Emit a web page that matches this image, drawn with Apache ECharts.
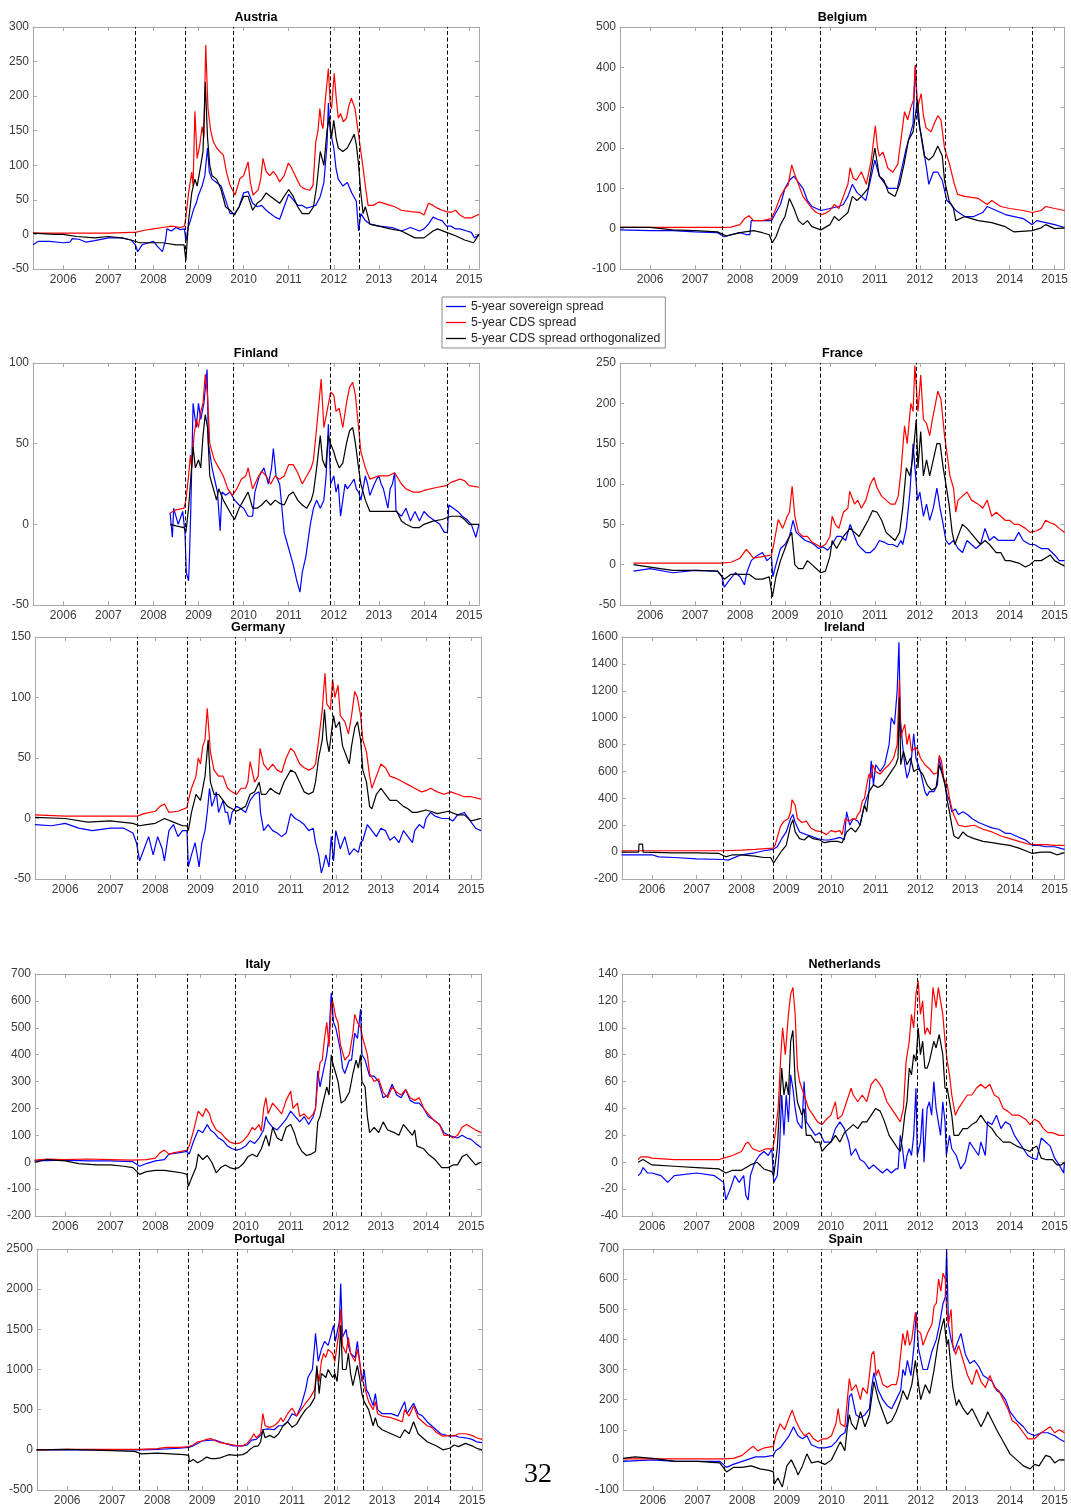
<!DOCTYPE html>
<html>
<head>
<meta charset="utf-8">
<script src="https://cdn.jsdelivr.net/npm/echarts@6/dist/echarts.min.js"></script>
<style>
  html, body { margin: 0; padding: 0; background: #fff; }
  #chart { width: 1071px; height: 1507px; }
</style>
</head>
<body>
<div id="chart"></div>
<script>
// ---------------- DATA ----------------
const countries = ['Austria','Belgium','Finland','France','Germany','Ireland','Italy','Netherlands','Portugal','Spain'];
const seriesNames = ['5-year sovereign spread','5-year CDS spread','5-year CDS spread orthogonalized'];
const yearTicks = [2006,2007,2008,2009,2010,2011,2012,2013,2014,2015];
const eventDates = [2007.60, 2008.70, 2009.78, 2011.93, 2012.57, 2014.51];
const timeRange = [2005.33, 2015.22];
const yRanges = { Austria:[-50,300,50], Belgium:[-100,500,100], Finland:[-50,100,50], France:[-50,250,50],
  Germany:[-50,150,50], Ireland:[-200,1600,200], Italy:[-200,700,100], Netherlands:[-40,140,20],
  Portugal:[-500,2500,500], Spain:[-100,700,100] };

const austriaSov = [[2005.33,-15],[2005.45,-10],[2005.7,-10],[2006.0,-12],[2006.15,-11],[2006.2,-6],[2006.35,-7],[2006.5,-11],[2006.7,-9],[2007.0,-5],[2007.3,-5],[2007.5,-8],[2007.6,-15],[2007.65,-25],[2007.75,-15],[2007.9,-12],[2008.0,-10],[2008.1,-18],[2008.2,-25],[2008.27,-8],[2008.3,8],[2008.4,5],[2008.5,10],[2008.6,7],[2008.69,8],[2008.72,-10],[2008.77,10],[2008.82,20],[2008.9,38],[2008.95,45],[2009.0,57],[2009.08,70],[2009.14,85],[2009.2,125],[2009.24,90],[2009.3,80],[2009.4,75],[2009.5,70],[2009.6,50],[2009.7,30],[2009.8,30],[2009.9,40],[2010.0,60],[2010.1,62],[2010.2,45],[2010.3,40],[2010.4,42],[2010.5,35],[2010.6,30],[2010.7,25],[2010.8,22],[2010.9,40],[2011.0,58],[2011.1,50],[2011.2,42],[2011.3,42],[2011.4,38],[2011.5,40],[2011.6,42],[2011.7,55],[2011.78,75],[2011.85,130],[2011.88,190],[2011.92,150],[2012.0,125],[2012.05,95],[2012.1,80],[2012.2,70],[2012.3,75],[2012.4,60],[2012.5,48],[2012.55,5],[2012.6,30],[2012.7,20],[2012.8,15],[2013.0,12],[2013.3,10],[2013.5,5],[2013.7,10],[2013.9,5],[2014.0,8],[2014.1,15],[2014.2,25],[2014.3,22],[2014.4,20],[2014.5,12],[2014.6,12],[2014.7,8],[2014.8,8],[2014.95,5],[2015.05,3],[2015.12,-5],[2015.22,0]];
const austriaCds = [[2005.33,2],[2006.0,2],[2007.0,2],[2007.5,3],[2007.6,3],[2007.8,6],[2008.0,8],[2008.2,10],[2008.4,12],[2008.6,10],[2008.69,12],[2008.72,25],[2008.78,60],[2008.85,90],[2008.88,70],[2008.92,178],[2008.97,110],[2009.03,130],[2009.08,156],[2009.12,140],[2009.16,274],[2009.21,182],[2009.27,150],[2009.33,134],[2009.4,125],[2009.47,120],[2009.55,115],[2009.62,90],[2009.7,71],[2009.81,57],[2009.87,70],[2009.92,81],[2010.0,85],[2010.05,95],[2010.1,105],[2010.15,75],[2010.21,57],[2010.32,64],[2010.38,80],[2010.43,110],[2010.5,91],[2010.58,85],[2010.66,91],[2010.73,85],[2010.8,76],[2010.9,85],[2010.99,103],[2011.05,98],[2011.1,91],[2011.18,80],[2011.25,71],[2011.32,67],[2011.4,65],[2011.47,64],[2011.54,71],[2011.6,134],[2011.65,150],[2011.69,182],[2011.73,160],[2011.76,153],[2011.82,200],[2011.88,240],[2011.92,190],[2011.95,182],[2012.01,233],[2012.05,200],[2012.1,168],[2012.15,175],[2012.21,163],[2012.28,168],[2012.33,185],[2012.39,197],[2012.43,195],[2012.47,182],[2012.54,149],[2012.6,120],[2012.65,96],[2012.7,70],[2012.76,42],[2012.87,42],[2013.0,47],[2013.2,43],[2013.35,40],[2013.5,35],[2013.7,33],[2013.9,32],[2014.0,28],[2014.1,45],[2014.2,42],[2014.3,38],[2014.4,35],[2014.5,33],[2014.6,32],[2014.7,35],[2014.8,28],[2014.9,24],[2015.05,24],[2015.15,27],[2015.22,29]];
const austriaOrth = [[2005.33,2],[2005.8,0],[2006.0,0],[2006.3,-3],[2006.7,-5],[2007.0,-3],[2007.3,-5],[2007.5,-8],[2007.7,-12],[2008.0,-12],[2008.2,-12],[2008.5,-15],[2008.68,-15],[2008.72,-38],[2008.78,20],[2008.85,60],[2008.92,80],[2008.97,70],[2009.05,100],[2009.1,120],[2009.15,220],[2009.2,140],[2009.25,100],[2009.3,85],[2009.4,80],[2009.5,65],[2009.6,40],[2009.7,35],[2009.8,28],[2009.9,40],[2010.0,55],[2010.1,55],[2010.2,35],[2010.3,45],[2010.4,50],[2010.5,60],[2010.6,55],[2010.8,45],[2010.9,55],[2011.0,65],[2011.1,55],[2011.2,40],[2011.3,30],[2011.45,30],[2011.55,40],[2011.62,70],[2011.7,120],[2011.78,100],[2011.85,150],[2011.9,170],[2011.95,140],[2012.0,165],[2012.05,140],[2012.1,125],[2012.2,120],[2012.3,125],[2012.38,135],[2012.45,145],[2012.5,130],[2012.55,100],[2012.6,60],[2012.65,30],[2012.7,40],[2012.8,15],[2013.0,12],[2013.25,8],[2013.5,5],[2013.8,-5],[2014.0,-5],[2014.2,5],[2014.3,8],[2014.5,3],[2014.7,-2],[2014.9,-8],[2015.1,-12],[2015.22,0]];

const belgiumSov = [[2005.33,-3],[2006.0,-5],[2006.5,-5],[2007.0,-8],[2007.5,-10],[2007.65,-20],[2007.8,-15],[2008.0,-10],[2008.15,-15],[2008.22,-15],[2008.25,20],[2008.5,20],[2008.7,20],[2008.8,40],[2008.9,60],[2009.0,100],[2009.1,120],[2009.2,130],[2009.3,115],[2009.4,100],[2009.5,70],[2009.6,55],[2009.7,50],[2009.8,45],[2010.0,50],[2010.2,55],[2010.3,60],[2010.4,80],[2010.5,110],[2010.6,90],[2010.7,80],[2010.8,70],[2010.9,120],[2011.0,170],[2011.1,130],[2011.2,115],[2011.3,100],[2011.5,100],[2011.6,150],[2011.7,200],[2011.8,240],[2011.85,260],[2011.9,405],[2011.95,280],[2012.05,220],[2012.15,150],[2012.2,110],[2012.3,140],[2012.4,140],[2012.5,120],[2012.6,70],[2012.7,60],[2012.8,45],[2013.0,30],[2013.2,30],[2013.4,40],[2013.5,55],[2013.7,45],[2013.9,35],[2014.1,30],[2014.3,25],[2014.5,10],[2014.6,20],[2014.8,15],[2015.0,10],[2015.22,3]];
const belgiumCds = [[2005.33,3],[2006.0,3],[2007.0,3],[2007.6,3],[2007.8,4],[2008.0,10],[2008.1,25],[2008.2,32],[2008.3,20],[2008.5,20],[2008.7,25],[2008.8,50],[2008.9,80],[2009.0,100],[2009.07,108],[2009.15,158],[2009.2,140],[2009.3,110],[2009.4,80],[2009.5,65],[2009.6,50],[2009.7,40],[2009.8,35],[2009.9,38],[2010.0,45],[2010.1,60],[2010.2,50],[2010.3,80],[2010.4,110],[2010.45,151],[2010.52,125],[2010.59,120],[2010.7,141],[2010.81,110],[2010.92,170],[2011.01,255],[2011.06,200],[2011.1,180],[2011.18,190],[2011.29,150],[2011.4,140],[2011.51,160],[2011.58,220],[2011.66,290],[2011.73,270],[2011.8,300],[2011.86,320],[2011.9,405],[2011.95,300],[2012.03,335],[2012.08,280],[2012.14,250],[2012.25,240],[2012.32,260],[2012.4,280],[2012.47,270],[2012.55,200],[2012.66,160],[2012.77,110],[2012.84,85],[2013.0,80],[2013.3,75],[2013.5,60],[2013.6,70],[2013.8,55],[2014.0,50],[2014.3,45],[2014.5,40],[2014.7,45],[2014.8,55],[2015.0,50],[2015.22,45]];
const belgiumOrth = [[2005.33,3],[2006.0,3],[2006.5,-3],[2007.0,-5],[2007.5,-8],[2007.7,-18],[2008.0,-10],[2008.3,-5],[2008.5,-10],[2008.65,-15],[2008.72,-35],[2008.8,-20],[2008.9,10],[2009.0,30],[2009.1,75],[2009.2,50],[2009.3,20],[2009.4,10],[2009.5,20],[2009.6,5],[2009.8,-3],[2010.0,10],[2010.1,30],[2010.2,20],[2010.4,40],[2010.5,80],[2010.6,70],[2010.7,80],[2010.85,100],[2011.0,200],[2011.1,130],[2011.2,120],[2011.3,90],[2011.45,80],[2011.55,110],[2011.65,160],[2011.75,220],[2011.85,240],[2011.95,320],[2012.0,250],[2012.1,180],[2012.2,170],[2012.3,180],[2012.4,205],[2012.5,180],[2012.55,120],[2012.65,70],[2012.75,50],[2012.8,20],[2013.0,30],[2013.3,20],[2013.6,15],[2013.9,5],[2014.1,-8],[2014.5,-5],[2014.7,2],[2014.8,10],[2015.0,0],[2015.22,2]];

const finlandSov = [[2008.37,7],[2008.42,-8],[2008.45,10],[2008.55,0],[2008.65,8],[2008.7,-5],[2008.73,-30],[2008.78,-35],[2008.8,-20],[2008.83,10],[2008.88,75],[2008.95,60],[2009.0,75],[2009.05,65],[2009.12,75],[2009.19,96],[2009.22,50],[2009.3,35],[2009.38,25],[2009.42,20],[2009.48,-4],[2009.52,20],[2009.6,18],[2009.7,20],[2009.8,15],[2009.9,12],[2010.0,10],[2010.1,5],[2010.2,5],[2010.25,20],[2010.35,30],[2010.45,35],[2010.5,30],[2010.55,25],[2010.62,35],[2010.66,47],[2010.72,30],[2010.8,25],[2010.85,10],[2010.9,-5],[2010.95,-10],[2011.0,-15],[2011.05,-20],[2011.1,-25],[2011.18,-35],[2011.25,-42],[2011.3,-30],[2011.38,-20],[2011.42,-20],[2011.48,0],[2011.55,10],[2011.62,15],[2011.7,10],[2011.78,15],[2011.83,30],[2011.88,62],[2011.93,25],[2012.0,30],[2012.05,20],[2012.1,25],[2012.15,5],[2012.2,15],[2012.25,25],[2012.3,22],[2012.38,25],[2012.45,28],[2012.5,22],[2012.55,20],[2012.6,15],[2012.7,30],[2012.75,25],[2012.8,18],[2012.9,25],[2012.95,28],[2013.0,30],[2013.05,25],[2013.1,22],[2013.2,10],[2013.25,22],[2013.3,25],[2013.35,32],[2013.38,8],[2013.5,5],[2013.6,10],[2013.7,2],[2013.8,8],[2013.9,2],[2014.0,8],[2014.1,5],[2014.2,3],[2014.35,0],[2014.45,-5],[2014.52,-5],[2014.55,12],[2014.65,10],[2014.75,8],[2014.85,5],[2014.95,3],[2015.05,0],[2015.15,-8],[2015.22,0]];
const finlandCds = [[2008.37,7],[2008.5,9],[2008.68,10],[2008.72,15],[2008.78,30],[2008.82,43],[2008.85,35],[2008.9,55],[2008.95,65],[2009.0,60],[2009.05,70],[2009.1,75],[2009.15,93],[2009.2,80],[2009.25,50],[2009.35,40],[2009.45,35],[2009.55,30],[2009.65,22],[2009.75,18],[2009.85,22],[2009.95,28],[2010.05,30],[2010.1,35],[2010.2,22],[2010.3,28],[2010.4,33],[2010.5,30],[2010.6,25],[2010.7,30],[2010.8,28],[2010.9,30],[2011.0,37],[2011.1,37],[2011.2,32],[2011.3,25],[2011.4,30],[2011.5,35],[2011.55,40],[2011.62,60],[2011.72,90],[2011.78,60],[2011.85,70],[2011.93,82],[2012.0,80],[2012.05,70],[2012.12,72],[2012.2,60],[2012.28,75],[2012.35,85],[2012.42,88],[2012.48,80],[2012.55,60],[2012.6,45],[2012.7,35],[2012.8,28],[2013.0,30],[2013.2,30],[2013.35,32],[2013.5,25],[2013.6,22],[2013.75,20],[2013.9,20],[2014.0,21],[2014.3,23],[2014.5,24],[2014.6,26],[2014.8,28],[2014.9,27],[2015.0,24],[2015.22,23]];
const finlandOrth = [[2008.37,0],[2008.5,-1],[2008.68,-2],[2008.72,-5],[2008.78,10],[2008.82,25],[2008.88,48],[2008.93,35],[2009.0,40],[2009.05,35],[2009.1,55],[2009.15,68],[2009.2,60],[2009.25,30],[2009.3,25],[2009.35,20],[2009.4,15],[2009.45,22],[2009.55,15],[2009.65,10],[2009.75,5],[2009.8,3],[2009.9,10],[2010.0,15],[2010.1,20],[2010.2,10],[2010.3,10],[2010.4,12],[2010.5,15],[2010.6,12],[2010.7,15],[2010.8,13],[2010.9,12],[2011.0,18],[2011.1,20],[2011.2,15],[2011.3,12],[2011.4,10],[2011.5,15],[2011.55,20],[2011.62,35],[2011.7,55],[2011.75,40],[2011.82,35],[2011.88,55],[2011.93,50],[2012.0,45],[2012.05,40],[2012.12,35],[2012.2,38],[2012.28,50],[2012.35,58],[2012.42,60],[2012.48,50],[2012.55,35],[2012.6,25],[2012.7,15],[2012.8,8],[2013.0,8],[2013.2,8],[2013.4,8],[2013.5,2],[2013.6,0],[2013.75,-2],[2013.9,-2],[2014.0,0],[2014.2,2],[2014.4,3],[2014.6,5],[2014.8,5],[2014.9,3],[2015.0,0],[2015.22,0]];

const franceSov = [[2005.63,-8],[2006.0,-5],[2006.5,-10],[2007.0,-7],[2007.5,-8],[2007.6,-15],[2007.65,-28],[2007.75,-20],[2007.9,-10],[2008.0,-15],[2008.1,-25],[2008.15,-10],[2008.25,5],[2008.35,10],[2008.5,15],[2008.6,5],[2008.7,10],[2008.73,-15],[2008.8,0],[2008.9,20],[2009.0,25],[2009.1,35],[2009.18,55],[2009.25,40],[2009.35,35],[2009.45,30],[2009.55,28],[2009.65,25],[2009.75,20],[2009.85,22],[2009.95,18],[2010.05,25],[2010.15,35],[2010.25,35],[2010.35,30],[2010.45,50],[2010.55,35],[2010.62,25],[2010.7,20],[2010.8,15],[2010.9,15],[2011.0,20],[2011.1,30],[2011.2,28],[2011.3,25],[2011.4,25],[2011.5,22],[2011.58,30],[2011.62,25],[2011.7,45],[2011.78,90],[2011.85,150],[2011.95,80],[2012.0,90],[2012.08,60],[2012.15,75],[2012.22,55],[2012.3,70],[2012.38,95],[2012.45,70],[2012.52,50],[2012.58,30],[2012.65,25],[2012.75,30],[2012.85,20],[2012.95,15],[2013.05,30],[2013.15,25],[2013.25,20],[2013.35,25],[2013.45,45],[2013.55,30],[2013.65,35],[2013.75,30],[2013.9,30],[2014.0,30],[2014.1,30],[2014.2,40],[2014.3,30],[2014.45,25],[2014.55,25],[2014.7,20],[2014.85,20],[2015.0,12],[2015.1,5],[2015.22,5]];
const franceCds = [[2005.63,2],[2007.6,2],[2007.8,3],[2008.0,8],[2008.14,19],[2008.3,8],[2008.5,10],[2008.7,12],[2008.75,25],[2008.85,56],[2008.95,45],[2009.05,60],[2009.1,65],[2009.16,97],[2009.22,60],[2009.3,40],[2009.4,35],[2009.5,35],[2009.6,28],[2009.7,25],[2009.8,22],[2009.9,25],[2010.0,35],[2010.05,60],[2010.12,50],[2010.2,45],[2010.3,65],[2010.4,70],[2010.44,91],[2010.55,75],[2010.62,80],[2010.7,70],[2010.8,80],[2010.9,100],[2010.98,108],[2011.05,95],[2011.15,85],[2011.25,80],[2011.35,75],[2011.45,75],[2011.52,85],[2011.58,115],[2011.66,172],[2011.72,150],[2011.8,200],[2011.85,190],[2011.89,247],[2011.96,190],[2012.02,235],[2012.08,180],[2012.15,175],[2012.22,160],[2012.28,180],[2012.35,200],[2012.4,215],[2012.47,205],[2012.55,160],[2012.6,140],[2012.67,110],[2012.75,95],[2012.8,65],[2012.85,80],[2012.95,85],[2013.05,90],[2013.15,80],[2013.3,75],[2013.4,70],[2013.5,80],[2013.6,60],[2013.7,65],[2013.8,60],[2013.9,55],[2014.0,55],[2014.1,50],[2014.2,50],[2014.35,45],[2014.45,40],[2014.6,42],[2014.7,45],[2014.8,55],[2014.9,52],[2015.0,50],[2015.1,45],[2015.22,40]];
const franceOrth = [[2005.63,0],[2006.0,-3],[2006.5,-7],[2007.0,-7],[2007.5,-8],[2007.65,-18],[2007.8,-12],[2008.0,-12],[2008.2,-12],[2008.35,-18],[2008.5,-18],[2008.65,-15],[2008.72,-40],[2008.8,-15],[2008.9,5],[2009.0,20],[2009.1,35],[2009.15,40],[2009.22,0],[2009.3,-5],[2009.4,-5],[2009.5,5],[2009.6,0],[2009.7,-5],[2009.8,-10],[2009.9,-8],[2010.0,10],[2010.05,30],[2010.15,20],[2010.3,35],[2010.45,45],[2010.55,40],[2010.65,35],[2010.75,45],[2010.85,55],[2010.95,67],[2011.05,65],[2011.15,55],[2011.25,40],[2011.35,35],[2011.45,30],[2011.55,40],[2011.62,70],[2011.7,120],[2011.78,110],[2011.85,135],[2011.92,180],[2011.96,120],[2012.02,165],[2012.08,110],[2012.15,130],[2012.22,110],[2012.3,130],[2012.38,150],[2012.45,150],[2012.52,120],[2012.58,100],[2012.65,75],[2012.72,40],[2012.78,25],[2012.88,40],[2012.95,50],[2013.05,45],[2013.2,35],[2013.35,25],[2013.45,30],[2013.55,25],[2013.7,15],[2013.8,15],[2013.9,5],[2014.0,5],[2014.2,2],[2014.35,-3],[2014.45,0],[2014.55,5],[2014.7,5],[2014.85,10],[2014.9,12],[2015.0,5],[2015.22,-2]];

const germanySov = [[2005.33,-5],[2005.7,-6],[2006.0,-4],[2006.3,-8],[2006.6,-10],[2007.0,-8],[2007.3,-8],[2007.5,-12],[2007.58,-20],[2007.65,-35],[2007.75,-25],[2007.85,-15],[2007.95,-30],[2008.05,-15],[2008.15,-25],[2008.2,-35],[2008.3,-10],[2008.4,-5],[2008.5,-15],[2008.6,-10],[2008.7,-10],[2008.73,-40],[2008.8,-30],[2008.88,-20],[2008.97,-40],[2009.03,-20],[2009.1,-10],[2009.15,5],[2009.2,25],[2009.25,10],[2009.3,15],[2009.35,22],[2009.4,5],[2009.5,15],[2009.55,5],[2009.6,5],[2009.65,-5],[2009.7,5],[2009.8,10],[2009.9,8],[2010.0,5],[2010.1,15],[2010.2,20],[2010.3,22],[2010.33,5],[2010.4,-10],[2010.5,-5],[2010.6,-10],[2010.7,-12],[2010.8,-15],[2010.9,-12],[2011.0,4],[2011.1,0],[2011.2,-2],[2011.3,-5],[2011.4,-10],[2011.5,-8],[2011.55,-20],[2011.62,-30],[2011.68,-45],[2011.72,-40],[2011.78,-30],[2011.85,-40],[2011.9,-15],[2011.95,-35],[2012.0,-10],[2012.1,-25],[2012.2,-15],[2012.3,-30],[2012.4,-25],[2012.5,-28],[2012.55,-20],[2012.6,-18],[2012.7,-5],[2012.8,-10],[2012.9,-15],[2013.0,-8],[2013.1,-10],[2013.2,-18],[2013.3,-15],[2013.4,-20],[2013.5,-10],[2013.6,-15],[2013.7,-20],[2013.75,-10],[2013.85,-5],[2013.95,-8],[2014.0,0],[2014.1,5],[2014.2,2],[2014.35,0],[2014.5,0],[2014.6,-2],[2014.7,3],[2014.85,5],[2015.0,-3],[2015.1,-8],[2015.22,-10]];
const germanyCds = [[2005.33,3],[2006.0,2],[2007.0,2],[2007.6,2],[2007.75,4],[2008.0,6],[2008.1,10],[2008.2,12],[2008.3,5],[2008.5,6],[2008.7,9],[2008.73,15],[2008.8,25],[2008.9,35],[2008.95,50],[2009.0,45],[2009.05,60],[2009.1,65],[2009.15,91],[2009.22,55],[2009.3,40],[2009.4,35],[2009.5,35],[2009.6,25],[2009.7,22],[2009.8,20],[2009.9,25],[2010.0,25],[2010.05,30],[2010.1,47],[2010.2,30],[2010.28,35],[2010.32,58],[2010.4,45],[2010.5,40],[2010.6,45],[2010.7,40],[2010.8,38],[2010.9,50],[2011.0,58],[2011.08,55],[2011.2,45],[2011.3,42],[2011.4,40],[2011.5,42],[2011.55,45],[2011.62,65],[2011.7,90],[2011.76,120],[2011.8,95],[2011.88,90],[2011.93,115],[2011.98,100],[2012.05,110],[2012.1,85],[2012.2,80],[2012.28,70],[2012.35,85],[2012.42,105],[2012.48,100],[2012.55,85],[2012.6,65],[2012.68,55],[2012.75,35],[2012.8,25],[2012.9,35],[2013.0,45],[2013.1,42],[2013.2,35],[2013.35,33],[2013.5,30],[2013.6,28],[2013.75,25],[2013.9,22],[2014.0,23],[2014.1,25],[2014.25,22],[2014.4,20],[2014.55,22],[2014.7,20],[2014.85,18],[2015.0,18],[2015.22,16]];
const germanyOrth = [[2005.33,1],[2006.0,0],[2006.5,-3],[2007.0,-2],[2007.5,-4],[2007.65,-6],[2007.8,-5],[2008.0,-4],[2008.2,0],[2008.4,-3],[2008.6,-6],[2008.7,-6],[2008.73,-10],[2008.8,5],[2008.9,20],[2009.0,15],[2009.1,35],[2009.17,65],[2009.22,30],[2009.3,20],[2009.4,20],[2009.5,15],[2009.6,10],[2009.7,8],[2009.8,6],[2009.9,8],[2010.0,10],[2010.1,20],[2010.2,22],[2010.3,30],[2010.35,20],[2010.45,20],[2010.55,25],[2010.65,22],[2010.75,20],[2010.85,30],[2011.0,40],[2011.1,38],[2011.2,30],[2011.3,22],[2011.4,20],[2011.5,22],[2011.55,30],[2011.62,50],[2011.7,65],[2011.75,90],[2011.8,65],[2011.85,55],[2011.9,70],[2011.95,85],[2012.0,75],[2012.08,80],[2012.15,60],[2012.25,50],[2012.3,45],[2012.35,60],[2012.42,75],[2012.48,80],[2012.55,65],[2012.6,40],[2012.68,30],[2012.75,10],[2012.8,8],[2012.9,20],[2013.0,25],[2013.1,20],[2013.2,15],[2013.35,15],[2013.5,10],[2013.6,8],[2013.7,5],[2013.8,5],[2014.0,7],[2014.1,6],[2014.25,4],[2014.5,6],[2014.7,3],[2014.85,3],[2015.0,-2],[2015.22,0]];

const irelandSov = [[2005.32,-20],[2006.0,-20],[2006.15,-35],[2006.5,-40],[2007.0,-50],[2007.6,-55],[2007.7,-60],[2008.0,-20],[2008.3,-5],[2008.5,10],[2008.7,20],[2008.8,40],[2008.9,100],[2009.0,150],[2009.1,250],[2009.15,280],[2009.2,220],[2009.3,150],[2009.45,130],[2009.55,120],[2009.7,100],[2009.85,90],[2009.95,90],[2010.1,100],[2010.2,110],[2010.3,90],[2010.35,300],[2010.42,200],[2010.5,250],[2010.6,230],[2010.65,200],[2010.75,350],[2010.85,450],[2010.9,680],[2010.95,500],[2011.0,650],[2011.1,600],[2011.2,650],[2011.3,800],[2011.35,1000],[2011.42,950],[2011.48,1200],[2011.52,1560],[2011.55,1000],[2011.6,800],[2011.65,650],[2011.7,550],[2011.75,600],[2011.8,700],[2011.85,880],[2011.9,700],[2011.95,650],[2012.0,600],[2012.1,450],[2012.15,420],[2012.2,450],[2012.3,450],[2012.38,500],[2012.42,700],[2012.47,620],[2012.55,500],[2012.6,420],[2012.65,380],[2012.7,300],[2012.78,320],[2012.85,280],[2012.95,300],[2013.05,280],[2013.15,250],[2013.3,220],[2013.45,200],[2013.6,180],[2013.75,170],[2013.9,140],[2014.0,140],[2014.2,110],[2014.35,90],[2014.5,50],[2014.65,50],[2014.8,40],[2015.0,40],[2015.22,20]];
const irelandCds = [[2005.32,10],[2007.6,10],[2008.0,15],[2008.3,20],[2008.7,30],[2008.75,50],[2008.87,190],[2008.95,230],[2009.05,250],[2009.1,300],[2009.13,390],[2009.2,350],[2009.25,250],[2009.35,220],[2009.45,230],[2009.55,180],[2009.65,160],[2009.8,150],[2009.9,130],[2010.0,160],[2010.1,150],[2010.2,160],[2010.25,130],[2010.32,250],[2010.4,230],[2010.5,250],[2010.55,240],[2010.6,280],[2010.65,300],[2010.7,380],[2010.75,400],[2010.8,500],[2010.85,580],[2010.9,550],[2010.93,650],[2011.0,600],[2011.1,580],[2011.2,620],[2011.3,650],[2011.4,700],[2011.48,800],[2011.53,1280],[2011.56,850],[2011.6,900],[2011.65,950],[2011.7,800],[2011.75,880],[2011.8,750],[2011.9,780],[2011.95,750],[2012.0,700],[2012.1,650],[2012.2,620],[2012.3,580],[2012.38,590],[2012.42,720],[2012.47,680],[2012.52,550],[2012.6,500],[2012.65,400],[2012.72,300],[2012.78,250],[2012.85,200],[2013.0,190],[2013.2,200],[2013.4,170],[2013.6,150],[2013.8,120],[2014.0,100],[2014.2,80],[2014.4,60],[2014.6,55],[2014.8,55],[2015.0,50],[2015.22,50]];
const irelandOrth = [[2005.32,0],[2005.7,0],[2005.71,60],[2005.79,60],[2005.8,0],[2006.5,-5],[2007.0,-5],[2007.5,-10],[2007.65,-35],[2007.8,-20],[2008.0,-20],[2008.3,-30],[2008.5,-40],[2008.65,-40],[2008.72,-80],[2008.8,-40],[2008.9,10],[2009.0,50],[2009.1,200],[2009.15,240],[2009.2,150],[2009.3,100],[2009.4,90],[2009.5,120],[2009.6,100],[2009.75,90],[2009.85,70],[2010.0,80],[2010.15,80],[2010.25,70],[2010.35,150],[2010.45,180],[2010.55,150],[2010.65,200],[2010.7,280],[2010.75,350],[2010.8,300],[2010.85,450],[2010.95,500],[2011.05,480],[2011.15,500],[2011.25,550],[2011.35,600],[2011.45,650],[2011.5,700],[2011.53,1150],[2011.56,650],[2011.62,750],[2011.7,650],[2011.78,700],[2011.85,600],[2011.95,620],[2012.05,580],[2012.15,500],[2012.25,460],[2012.35,480],[2012.42,650],[2012.47,600],[2012.55,500],[2012.6,380],[2012.65,300],[2012.7,200],[2012.75,120],[2012.85,100],[2012.95,150],[2013.05,120],[2013.2,100],[2013.4,80],[2013.6,70],[2013.8,60],[2014.0,50],[2014.2,30],[2014.35,10],[2014.5,-10],[2014.7,0],[2014.9,0],[2015.05,-20],[2015.22,-5]];

const italySov = [[2005.32,5],[2006.0,8],[2006.5,5],[2007.0,5],[2007.5,2],[2007.65,-15],[2007.8,-5],[2008.0,5],[2008.2,10],[2008.3,30],[2008.5,35],[2008.7,40],[2008.75,30],[2008.85,80],[2008.95,120],[2009.05,110],[2009.15,140],[2009.22,120],[2009.3,110],[2009.4,90],[2009.5,80],[2009.6,60],[2009.7,50],[2009.8,45],[2009.9,50],[2010.0,60],[2010.1,80],[2010.2,70],[2010.3,90],[2010.4,120],[2010.45,170],[2010.5,150],[2010.6,130],[2010.7,120],[2010.8,140],[2010.9,160],[2011.0,190],[2011.1,170],[2011.2,150],[2011.3,170],[2011.4,140],[2011.5,170],[2011.55,200],[2011.6,340],[2011.65,280],[2011.7,320],[2011.8,400],[2011.85,470],[2011.9,630],[2011.95,520],[2012.0,500],[2012.1,420],[2012.15,350],[2012.2,330],[2012.3,380],[2012.35,380],[2012.42,480],[2012.48,460],[2012.55,570],[2012.58,400],[2012.65,380],[2012.75,320],[2012.85,320],[2012.95,300],[2013.05,240],[2013.15,250],[2013.25,290],[2013.35,250],[2013.45,240],[2013.55,270],[2013.65,230],[2013.75,220],[2013.85,220],[2013.95,200],[2014.05,170],[2014.15,160],[2014.3,140],[2014.4,110],[2014.5,100],[2014.6,95],[2014.7,90],[2014.8,100],[2014.9,90],[2015.0,85],[2015.1,70],[2015.22,55]];
const italyCds = [[2005.32,8],[2005.6,12],[2006.0,10],[2006.5,12],[2007.0,10],[2007.5,8],[2007.8,10],[2008.0,15],[2008.1,35],[2008.2,45],[2008.3,30],[2008.4,35],[2008.55,40],[2008.7,45],[2008.75,60],[2008.85,120],[2008.95,190],[2009.05,170],[2009.12,200],[2009.2,180],[2009.25,150],[2009.35,120],[2009.45,110],[2009.55,90],[2009.65,75],[2009.75,70],[2009.85,70],[2009.95,80],[2010.05,100],[2010.15,130],[2010.2,120],[2010.3,140],[2010.35,115],[2010.4,200],[2010.45,240],[2010.5,180],[2010.6,220],[2010.7,200],[2010.8,180],[2010.9,230],[2011.0,265],[2011.05,200],[2011.15,220],[2011.2,170],[2011.3,180],[2011.4,160],[2011.5,180],[2011.55,200],[2011.6,300],[2011.65,370],[2011.7,380],[2011.75,460],[2011.8,520],[2011.85,430],[2011.9,580],[2011.93,600],[2012.0,540],[2012.05,520],[2012.1,440],[2012.2,380],[2012.3,400],[2012.38,480],[2012.42,550],[2012.48,520],[2012.55,500],[2012.6,460],[2012.7,400],[2012.75,330],[2012.85,300],[2012.95,310],[2013.05,260],[2013.15,240],[2013.25,280],[2013.35,260],[2013.45,250],[2013.55,270],[2013.65,240],[2013.75,230],[2013.85,240],[2013.95,200],[2014.05,180],[2014.15,160],[2014.3,140],[2014.4,100],[2014.5,100],[2014.6,90],[2014.7,100],[2014.8,130],[2014.9,140],[2015.0,130],[2015.1,120],[2015.22,110]];
const italyOrth = [[2005.32,0],[2005.6,10],[2006.0,5],[2006.3,-5],[2006.7,-10],[2007.0,-10],[2007.3,-15],[2007.5,-20],[2007.65,-45],[2007.8,-35],[2008.0,-30],[2008.2,-30],[2008.4,-35],[2008.6,-40],[2008.7,-45],[2008.73,-90],[2008.8,-60],[2008.9,-20],[2008.95,30],[2009.05,10],[2009.15,25],[2009.25,0],[2009.35,-40],[2009.45,-20],[2009.55,-10],[2009.65,-20],[2009.75,-25],[2009.85,-20],[2009.95,-5],[2010.05,20],[2010.15,30],[2010.25,20],[2010.35,50],[2010.45,100],[2010.52,60],[2010.6,130],[2010.7,90],[2010.8,80],[2010.9,130],[2011.0,140],[2011.08,110],[2011.15,70],[2011.25,40],[2011.35,25],[2011.45,30],[2011.55,40],[2011.6,150],[2011.65,170],[2011.7,210],[2011.8,280],[2011.85,250],[2011.9,400],[2011.93,370],[2012.0,330],[2012.05,300],[2012.12,220],[2012.2,230],[2012.3,260],[2012.38,330],[2012.45,380],[2012.5,350],[2012.55,400],[2012.58,300],[2012.65,280],[2012.7,170],[2012.75,110],[2012.85,130],[2012.95,110],[2013.05,150],[2013.15,120],[2013.3,110],[2013.4,100],[2013.5,140],[2013.6,120],[2013.7,100],[2013.75,120],[2013.8,60],[2013.95,50],[2014.05,30],[2014.2,10],[2014.35,-20],[2014.5,-20],[2014.6,-10],[2014.7,-10],[2014.8,20],[2014.9,30],[2015.0,10],[2015.1,-10],[2015.22,0]];

const netherlandsSov = [[2005.69,-10],[2005.75,-8],[2005.8,-4],[2005.9,-8],[2006.0,-8],[2006.2,-10],[2006.35,-15],[2006.5,-10],[2007.0,-8],[2007.4,-10],[2007.6,-15],[2007.65,-28],[2007.75,-20],[2007.85,-10],[2007.95,-15],[2008.05,-10],[2008.1,-25],[2008.15,-28],[2008.2,-10],[2008.3,0],[2008.4,5],[2008.5,8],[2008.6,5],[2008.68,10],[2008.72,-15],[2008.8,-10],[2008.85,10],[2008.9,50],[2008.95,20],[2009.0,50],[2009.05,30],[2009.1,65],[2009.15,55],[2009.2,40],[2009.25,30],[2009.35,25],[2009.4,60],[2009.45,30],[2009.55,25],[2009.65,20],[2009.75,22],[2009.85,15],[2010.0,15],[2010.1,25],[2010.2,30],[2010.3,25],[2010.4,15],[2010.45,5],[2010.55,10],[2010.65,2],[2010.75,0],[2010.85,-5],[2010.95,-2],[2011.05,-5],[2011.15,-8],[2011.25,-5],[2011.35,-8],[2011.45,-5],[2011.5,-5],[2011.55,20],[2011.6,10],[2011.65,-5],[2011.7,5],[2011.75,10],[2011.8,5],[2011.85,20],[2011.9,55],[2011.93,5],[2012.0,15],[2012.05,40],[2012.08,0],[2012.15,40],[2012.2,45],[2012.25,35],[2012.3,60],[2012.35,40],[2012.4,30],[2012.45,20],[2012.5,45],[2012.55,30],[2012.58,5],[2012.65,20],[2012.7,10],[2012.8,5],[2012.9,-5],[2013.0,0],[2013.1,15],[2013.2,10],[2013.3,5],[2013.35,15],[2013.45,5],[2013.5,30],[2013.6,28],[2013.7,35],[2013.8,25],[2013.9,30],[2014.0,28],[2014.1,20],[2014.2,15],[2014.3,10],[2014.4,5],[2014.5,3],[2014.6,2],[2014.7,18],[2014.8,15],[2014.9,12],[2015.0,3],[2015.1,-2],[2015.2,-8],[2015.22,0]];
const netherlandsCds = [[2005.69,2],[2005.75,4],[2005.9,4],[2006.0,3],[2006.5,2],[2007.0,2],[2007.5,2],[2007.6,3],[2007.8,5],[2008.0,8],[2008.1,14],[2008.15,15],[2008.25,10],[2008.4,8],[2008.55,10],[2008.7,10],[2008.75,20],[2008.82,40],[2008.88,80],[2008.92,100],[2008.98,80],[2009.05,110],[2009.1,125],[2009.15,130],[2009.2,110],[2009.25,70],[2009.3,60],[2009.35,55],[2009.4,50],[2009.5,40],[2009.6,35],[2009.7,30],[2009.8,28],[2009.9,32],[2010.0,35],[2010.1,45],[2010.15,32],[2010.25,35],[2010.35,45],[2010.45,55],[2010.5,50],[2010.6,45],[2010.7,50],[2010.8,45],[2010.9,58],[2011.0,62],[2011.05,60],[2011.15,55],[2011.25,45],[2011.35,40],[2011.45,35],[2011.55,30],[2011.62,40],[2011.68,75],[2011.75,90],[2011.8,110],[2011.85,100],[2011.9,125],[2011.95,135],[2012.0,110],[2012.05,120],[2012.1,95],[2012.15,100],[2012.22,95],[2012.28,130],[2012.35,115],[2012.4,130],[2012.45,120],[2012.5,110],[2012.55,90],[2012.6,75],[2012.65,65],[2012.7,50],[2012.78,35],[2012.85,40],[2012.95,45],[2013.05,50],[2013.15,50],[2013.25,55],[2013.35,58],[2013.45,55],[2013.55,58],[2013.65,50],[2013.75,48],[2013.85,40],[2013.95,38],[2014.05,35],[2014.2,35],[2014.35,32],[2014.45,28],[2014.55,32],[2014.65,30],[2014.75,25],[2014.85,22],[2014.95,22],[2015.1,20],[2015.22,20]];
const netherlandsOrth = [[2005.69,0],[2005.8,2],[2006.0,-2],[2006.5,-3],[2007.0,-4],[2007.5,-5],[2007.65,-8],[2007.8,-6],[2008.0,-6],[2008.2,-2],[2008.35,0],[2008.5,-5],[2008.68,-7],[2008.72,-10],[2008.8,10],[2008.85,40],[2008.9,70],[2008.95,50],[2009.0,60],[2009.05,50],[2009.1,90],[2009.15,98],[2009.2,60],[2009.25,45],[2009.35,35],[2009.4,40],[2009.45,20],[2009.55,20],[2009.65,15],[2009.75,15],[2009.8,8],[2009.9,12],[2010.0,15],[2010.1,20],[2010.2,15],[2010.3,22],[2010.4,25],[2010.5,28],[2010.6,25],[2010.7,30],[2010.8,30],[2010.9,35],[2011.0,40],[2011.1,38],[2011.2,30],[2011.3,20],[2011.4,15],[2011.5,10],[2011.55,8],[2011.6,20],[2011.65,35],[2011.7,45],[2011.75,70],[2011.8,65],[2011.85,80],[2011.9,75],[2011.95,100],[2012.0,80],[2012.05,90],[2012.1,70],[2012.15,70],[2012.2,75],[2012.3,90],[2012.35,85],[2012.42,95],[2012.5,80],[2012.55,55],[2012.6,55],[2012.65,45],[2012.7,35],[2012.75,20],[2012.85,20],[2012.95,25],[2013.05,25],[2013.15,28],[2013.25,30],[2013.35,35],[2013.45,30],[2013.5,28],[2013.6,25],[2013.7,20],[2013.85,15],[2014.0,15],[2014.15,12],[2014.3,10],[2014.45,8],[2014.5,10],[2014.6,12],[2014.7,3],[2014.8,2],[2014.95,2],[2015.05,-2],[2015.15,-2],[2015.22,0]];

const portugalSov = [[2005.32,0],[2007.6,0],[2008.0,5],[2008.5,20],[2008.7,30],[2008.8,50],[2008.9,80],[2009.0,110],[2009.2,120],[2009.3,120],[2009.5,80],[2009.7,50],[2009.9,50],[2010.0,60],[2010.1,120],[2010.2,130],[2010.3,180],[2010.35,250],[2010.45,260],[2010.6,250],[2010.7,300],[2010.8,300],[2010.9,350],[2011.0,450],[2011.1,420],[2011.2,550],[2011.3,750],[2011.35,900],[2011.45,1000],[2011.5,1300],[2011.52,1450],[2011.58,1100],[2011.65,1250],[2011.72,1350],[2011.8,1300],[2011.85,1400],[2011.92,1550],[2011.96,1350],[2012.05,1600],[2012.08,2070],[2012.12,1400],[2012.2,1500],[2012.25,1300],[2012.3,1200],[2012.4,1150],[2012.45,1350],[2012.5,1100],[2012.55,850],[2012.6,1000],[2012.65,750],[2012.7,700],[2012.8,550],[2012.85,700],[2012.9,500],[2013.0,450],[2013.2,450],[2013.35,420],[2013.5,600],[2013.55,450],[2013.7,580],[2013.8,450],[2013.9,420],[2014.0,350],[2014.1,300],[2014.2,250],[2014.3,200],[2014.5,170],[2014.6,180],[2014.7,160],[2014.85,150],[2015.0,130],[2015.1,100],[2015.22,90]];
const portugalCds = [[2005.32,0],[2006.0,5],[2007.0,5],[2007.6,5],[2008.0,15],[2008.2,30],[2008.5,30],[2008.7,40],[2008.8,60],[2008.9,100],[2009.0,110],[2009.1,130],[2009.2,140],[2009.3,110],[2009.4,90],[2009.5,80],[2009.6,70],[2009.7,60],[2009.8,50],[2009.9,50],[2010.0,80],[2010.1,150],[2010.15,200],[2010.2,150],[2010.3,200],[2010.35,450],[2010.4,300],[2010.5,280],[2010.6,300],[2010.7,350],[2010.75,400],[2010.8,350],[2010.9,450],[2011.0,520],[2011.1,420],[2011.2,500],[2011.3,580],[2011.4,650],[2011.5,750],[2011.55,1000],[2011.6,850],[2011.65,1100],[2011.7,1200],[2011.75,1150],[2011.8,1250],[2011.9,1200],[2011.95,1100],[2012.0,1300],[2012.05,1500],[2012.08,1750],[2012.12,1300],[2012.2,1200],[2012.25,1400],[2012.3,1200],[2012.4,1100],[2012.45,1250],[2012.5,1100],[2012.55,900],[2012.6,800],[2012.65,700],[2012.7,600],[2012.8,500],[2012.85,600],[2012.9,450],[2013.0,420],[2013.2,400],[2013.35,370],[2013.45,350],[2013.5,500],[2013.6,420],[2013.7,550],[2013.8,400],[2013.9,350],[2014.0,300],[2014.1,280],[2014.2,220],[2014.35,170],[2014.5,180],[2014.6,170],[2014.7,200],[2014.85,200],[2015.0,180],[2015.1,150],[2015.22,130]];
const portugalOrth = [[2005.32,0],[2006.0,5],[2007.0,-10],[2007.5,-20],[2007.65,-50],[2008.0,-40],[2008.3,-50],[2008.6,-60],[2008.7,-70],[2008.72,-150],[2008.8,-120],[2008.9,-160],[2009.0,-130],[2009.1,-90],[2009.2,-110],[2009.3,-110],[2009.4,-100],[2009.5,-80],[2009.6,-60],[2009.75,-70],[2009.9,-60],[2010.0,-30],[2010.05,0],[2010.15,40],[2010.25,50],[2010.3,100],[2010.35,250],[2010.4,150],[2010.5,180],[2010.6,150],[2010.7,200],[2010.8,300],[2010.9,350],[2011.0,280],[2011.1,320],[2011.2,420],[2011.3,500],[2011.4,550],[2011.5,650],[2011.55,1050],[2011.6,700],[2011.65,950],[2011.75,900],[2011.8,1000],[2011.9,900],[2011.95,950],[2012.0,850],[2012.05,1200],[2012.08,1550],[2012.12,1000],[2012.2,1000],[2012.25,1200],[2012.3,950],[2012.35,800],[2012.45,1050],[2012.5,900],[2012.55,700],[2012.6,600],[2012.7,500],[2012.8,300],[2012.85,400],[2012.9,300],[2013.0,250],[2013.2,200],[2013.4,150],[2013.5,250],[2013.6,200],[2013.7,350],[2013.8,200],[2013.9,150],[2014.0,100],[2014.2,50],[2014.35,0],[2014.5,20],[2014.6,60],[2014.7,40],[2014.85,80],[2015.0,50],[2015.1,20],[2015.22,0]];

const spainSov = [[2005.33,-5],[2006.0,0],[2006.5,-5],[2007.0,-5],[2007.5,-5],[2007.65,-25],[2007.8,-15],[2008.0,-5],[2008.2,5],[2008.3,10],[2008.5,10],[2008.7,15],[2008.75,30],[2008.85,40],[2008.95,60],[2009.05,80],[2009.15,110],[2009.25,80],[2009.35,70],[2009.45,80],[2009.55,50],[2009.7,40],[2009.85,40],[2010.0,45],[2010.1,60],[2010.2,80],[2010.3,90],[2010.35,120],[2010.4,210],[2010.45,220],[2010.55,150],[2010.65,140],[2010.75,150],[2010.85,170],[2010.9,240],[2010.95,290],[2011.05,230],[2011.15,200],[2011.25,180],[2011.35,170],[2011.45,200],[2011.55,230],[2011.6,300],[2011.65,280],[2011.7,330],[2011.78,280],[2011.85,380],[2011.9,490],[2011.95,370],[2012.05,300],[2012.15,300],[2012.25,360],[2012.35,400],[2012.42,450],[2012.5,520],[2012.55,540],[2012.58,700],[2012.62,450],[2012.68,400],[2012.75,360],[2012.85,400],[2012.9,420],[2013.0,350],[2013.1,320],[2013.2,330],[2013.3,310],[2013.4,280],[2013.5,270],[2013.6,260],[2013.7,230],[2013.8,220],[2013.9,200],[2014.0,160],[2014.15,130],[2014.3,110],[2014.4,90],[2014.55,80],[2014.7,90],[2014.85,90],[2015.0,80],[2015.1,70],[2015.22,60]];
const spainCds = [[2005.33,3],[2007.6,3],[2007.8,5],[2008.0,15],[2008.2,40],[2008.25,45],[2008.35,30],[2008.5,40],[2008.7,45],[2008.75,80],[2008.85,120],[2008.95,100],[2009.05,140],[2009.12,165],[2009.2,130],[2009.3,100],[2009.4,80],[2009.5,90],[2009.6,70],[2009.7,60],[2009.8,70],[2009.9,70],[2010.0,80],[2010.1,120],[2010.15,170],[2010.2,120],[2010.3,110],[2010.35,190],[2010.4,270],[2010.45,230],[2010.55,250],[2010.65,200],[2010.7,240],[2010.8,220],[2010.85,280],[2010.9,350],[2010.95,360],[2011.0,280],[2011.05,300],[2011.15,250],[2011.25,240],[2011.35,250],[2011.45,250],[2011.5,280],[2011.55,350],[2011.6,420],[2011.65,380],[2011.7,430],[2011.75,380],[2011.8,400],[2011.88,490],[2011.93,430],[2012.0,420],[2012.05,380],[2012.15,420],[2012.25,450],[2012.3,510],[2012.35,520],[2012.4,600],[2012.45,560],[2012.5,620],[2012.55,600],[2012.58,500],[2012.62,450],[2012.68,500],[2012.72,380],[2012.78,350],[2012.85,380],[2012.95,330],[2013.05,280],[2013.15,250],[2013.25,300],[2013.35,260],[2013.45,240],[2013.55,280],[2013.65,240],[2013.75,230],[2013.85,200],[2013.95,170],[2014.05,130],[2014.15,120],[2014.3,90],[2014.4,70],[2014.55,70],[2014.7,90],[2014.8,100],[2014.9,110],[2015.0,90],[2015.1,100],[2015.22,90]];
const spainOrth = [[2005.33,5],[2005.6,10],[2006.0,5],[2006.5,-5],[2007.0,-5],[2007.5,-10],[2007.65,-40],[2007.8,-25],[2008.0,-25],[2008.2,-20],[2008.4,-30],[2008.6,-35],[2008.7,-40],[2008.72,-80],[2008.8,-60],[2008.9,-90],[2009.0,-20],[2009.1,0],[2009.2,-30],[2009.25,-50],[2009.35,-20],[2009.45,20],[2009.55,-10],[2009.7,-5],[2009.85,-15],[2010.0,0],[2010.1,30],[2010.2,60],[2010.3,30],[2010.35,100],[2010.4,150],[2010.45,120],[2010.55,100],[2010.65,160],[2010.75,110],[2010.85,150],[2010.95,260],[2011.0,230],[2011.05,200],[2011.15,160],[2011.25,120],[2011.35,130],[2011.45,160],[2011.55,200],[2011.6,230],[2011.7,200],[2011.8,250],[2011.88,330],[2011.95,250],[2012.0,200],[2012.1,250],[2012.2,220],[2012.3,300],[2012.38,380],[2012.45,430],[2012.52,470],[2012.58,380],[2012.62,400],[2012.68,300],[2012.72,240],[2012.8,180],[2012.85,200],[2012.95,170],[2013.05,150],[2013.15,170],[2013.25,140],[2013.35,110],[2013.45,140],[2013.5,160],[2013.6,130],[2013.7,100],[2013.85,60],[2014.0,20],[2014.15,0],[2014.3,-20],[2014.45,-30],[2014.55,-15],[2014.65,-20],[2014.8,15],[2014.9,10],[2015.0,-10],[2015.1,0],[2015.22,0]];

const panelData = {
  Austria: [austriaSov, austriaCds, austriaOrth],
  Belgium: [belgiumSov, belgiumCds, belgiumOrth],
  Finland: [finlandSov, finlandCds, finlandOrth],
  France: [franceSov, franceCds, franceOrth],
  Germany: [germanySov, germanyCds, germanyOrth],
  Ireland: [irelandSov, irelandCds, irelandOrth],
  Italy: [italySov, italyCds, italyOrth],
  Netherlands: [netherlandsSov, netherlandsCds, netherlandsOrth],
  Portugal: [portugalSov, portugalCds, portugalOrth],
  Spain: [spainSov, spainCds, spainOrth]
};

// ---------------- LAYOUT & STYLE ----------------
const layout = {
  Austria:     { left: 33,  top: 27,   width: 446, height: 242 },
  Belgium:     { left: 620, top: 27,   width: 445, height: 242 },
  Finland:     { left: 33,  top: 363,  width: 446, height: 242 },
  France:      { left: 620, top: 363,  width: 445, height: 242 },
  Germany:     { left: 35,  top: 637,  width: 446, height: 242 },
  Ireland:     { left: 622, top: 637,  width: 445, height: 242 },
  Italy:       { left: 35,  top: 974,  width: 446, height: 242 },
  Netherlands: { left: 622, top: 974,  width: 445, height: 242 },
  Portugal:    { left: 37,  top: 1249, width: 445, height: 242 },
  Spain:       { left: 623, top: 1249, width: 445, height: 242 }
};
const colors = ['#0000ff', '#ff0000', '#000000'];
const axisGray = '#a8a8a8';
const labelColor = '#3a3a3a';
const fontFamily = '"Liberation Sans", Arial, Helvetica, sans-serif';

const grids = [], xAxes = [], yAxes = [], series = [], graphics = [];
countries.forEach((c, i) => {
  const L = layout[c];
  grids.push({ left: L.left, top: L.top, width: L.width, height: L.height, containLabel: false });
  const [ymin, ymax, yint] = yRanges[c];
  const xBase = {
    gridIndex: i, type: 'value', min: timeRange[0], max: timeRange[1],
    splitLine: { show: false },
    axisLine: { show: true, onZero: false, lineStyle: { color: axisGray, width: 1 } },
    axisTick: { show: true, inside: true, length: 4, customValues: yearTicks, lineStyle: { color: axisGray } }
  };
  xAxes.push(Object.assign({}, xBase, { position: 'bottom',
    axisLabel: { show: true, customValues: yearTicks, margin: 5, color: labelColor, fontSize: 12, fontFamily: fontFamily, formatter: v => String(Math.round(v)) } }));
  xAxes.push(Object.assign({}, xBase, { position: 'top', axisLabel: { show: false } }));
  const yBase = {
    gridIndex: i, type: 'value', min: ymin, max: ymax, interval: yint,
    splitLine: { show: false },
    axisLine: { show: true, onZero: false, lineStyle: { color: axisGray, width: 1 } },
    axisTick: { show: true, inside: true, length: 4, lineStyle: { color: axisGray } }
  };
  yAxes.push(Object.assign({}, yBase, { position: 'left',
    axisLabel: { show: true, margin: 4, color: labelColor, fontSize: 12, fontFamily: fontFamily, formatter: v => String(v) } }));
  yAxes.push(Object.assign({}, yBase, { position: 'right', axisLabel: { show: false } }));

  panelData[c].forEach((d, k) => {
    const s = {
      name: seriesNames[k], type: 'line', xAxisIndex: 2 * i, yAxisIndex: 2 * i,
      data: d, showSymbol: false, symbol: 'none', smooth: false,
      lineStyle: { color: colors[k], width: 1.2 }, itemStyle: { color: colors[k] },
      animation: false, silent: true, z: 2 + k
    };
    if (k === 2) {
      s.markLine = {
        silent: true, symbol: ['none', 'none'], animation: false,
        label: { show: false },
        lineStyle: { color: '#000', type: [4, 2.5], width: 1 },
        data: eventDates.map(t => ({ xAxis: t }))
      };
    }
    series.push(s);
  });

  graphics.push({
    type: 'text', x: L.left + L.width / 2, y: L.top - 9,
    style: { text: c, font: 'bold 12.5px ' + fontFamily, fill: '#000', textAlign: 'center', textVerticalAlign: 'middle' }
  });
});

graphics.push({
  type: 'text', x: 538, y: 1475,
  style: { text: '32', font: '28px "Liberation Serif", "DejaVu Serif", serif', fill: '#000', textAlign: 'center', textVerticalAlign: 'middle' }
});

const chart = echarts.init(document.getElementById('chart'), null, { renderer: 'canvas' });
chart.setOption({
  backgroundColor: '#ffffff',
  animation: false,
  textStyle: { fontFamily: fontFamily },
  grid: grids,
  xAxis: xAxes,
  yAxis: yAxes,
  legend: {
    data: seriesNames, orient: 'vertical', left: 442, top: 297,
    icon: 'rect', itemWidth: 20, itemHeight: 1.3, itemGap: 3,
    padding: [3, 5, 3, 4], borderColor: '#8c8c8c', borderWidth: 1, backgroundColor: '#ffffff',
    textStyle: { fontSize: 12.3, color: '#262626', fontFamily: fontFamily, lineHeight: 13 },
    selectedMode: false
  },
  series: series,
  graphic: graphics
});
</script>
</body>
</html>
